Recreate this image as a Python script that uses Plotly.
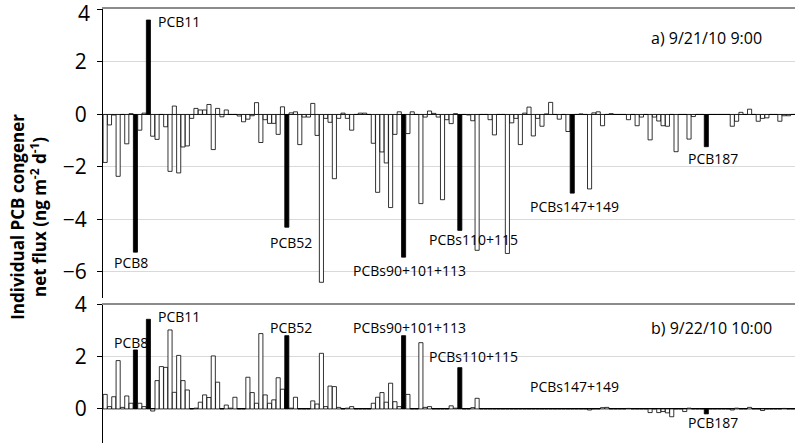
import plotly.graph_objects as go
from plotly.subplots import make_subplots

# ------------------------------------------------------------
# data: net flux per congener (ng m-2 d-1), 160 congener slots
# ------------------------------------------------------------
congener_idx = list(range(160))

flux_0921 = [
    -1.83, -0.40, -0.02, -2.36, 0.00, -1.12, 0.03, -5.25, -0.60, 0.05,
    3.60, -0.83, -0.95, 0.00, -0.47, -2.17, 0.32, -2.23, -1.24, -1.20,
    -0.15, 0.23, 0.17, 0.17, 0.38, -1.34, 0.23, -0.09, 0.17, 0.00,
    0.00, -0.06, -0.28, -0.18, -0.05, 0.45, -1.07, -0.20, -0.34, -0.34,
    -0.76, 0.29, -4.30, 0.06, 0.10, -1.15, -0.10, -0.10, 0.42, -0.80,
    -6.40, -0.15, -0.30, -2.45, -0.15, 0.05, -0.15, -0.60, 0.00, 0.05,
    0.05, 0.00, -1.10, -2.97, -1.43, -1.85, -3.55, -0.76, 0.10, -5.44,
    -0.73, 0.10, 0.00, -3.40, -0.10, 0.13, 0.04, -0.10, -3.25, -0.20,
    -0.35, 0.03, -4.42, 0.00, -0.02, -0.24, -5.18, 0.00, 0.00, -0.20,
    -0.78, 0.00, 0.00, -5.30, -0.32, -0.15, -1.15, 0.05, 0.28, -0.82,
    -0.15, -0.45, 0.02, 0.46, 0.00, -0.18, 0.00, -0.65, -3.00, 0.00,
    0.02, 0.00, -2.84, 0.06, 0.10, -0.43, 0.00, 0.03, 0.00, 0.00,
    0.00, -0.20, 0.00, -0.43, -0.10, 0.00, -0.97, -0.10, -0.25, -0.43,
    -0.45, 0.00, -1.42, 0.00, 0.00, -0.94, -0.08, 0.00, 0.00, -1.23,
    0.00, 0.00, 0.00, 0.00, 0.00, -0.45, -0.26, 0.08, 0.00, 0.20,
    0.00, -0.26, -0.15, -0.13, 0.00, 0.00, -0.26, -0.05, -0.05, 0.00,
]

flux_0922 = [
    0.56, 0.09, 0.47, 1.86, 0.06, 0.50, 0.22, 2.27, 0.22, 0.09,
    3.45, -0.08, 1.09, 1.63, 1.60, 3.04, 0.64, 2.06, 1.09, 0.73,
    0.00, 0.03, 0.26, 0.54, 0.44, 2.04, 1.03, 0.00, 0.15, 0.03,
    0.45, 0.00, 0.00, 1.22, 0.63, 0.22, 2.90, 0.54, 0.22, 0.35,
    1.20, 0.76, 2.82, 0.03, 0.45, 0.00, 0.00, 0.00, 0.31, 0.19,
    2.14, 0.09, 0.88, 0.86, 0.06, 0.00, 0.03, 0.09, 0.00, 0.00,
    0.00, 0.00, 0.22, 0.45, 0.63, 0.26, 0.99, 0.28, 0.09, 2.82,
    0.56, 0.00, 0.00, 2.55, 0.06, 0.09, 0.00, 0.00, 0.00, 0.00,
    0.12, 0.03, 1.59, 0.00, 0.00, 0.05, 0.41, 0.00, 0.00, 0.00,
    0.00, 0.00, 0.00, 0.00, 0.00, 0.00, 0.00, 0.00, 0.00, 0.00,
    0.00, 0.00, 0.00, 0.00, 0.00, 0.00, 0.00, 0.00, 0.00, 0.00,
    0.00, 0.00, -0.04, 0.00, 0.00, 0.05, 0.06, 0.00, 0.00, 0.00,
    0.00, 0.02, 0.00, 0.00, 0.00, 0.00, -0.14, 0.00, -0.14, -0.10,
    -0.15, -0.30, 0.00, 0.00, -0.10, 0.03, 0.00, 0.00, 0.00, -0.19,
    0.00, 0.00, 0.00, 0.00, 0.00, -0.04, 0.03, 0.00, 0.00, 0.06,
    0.00, 0.00, -0.06, 0.00, 0.00, 0.00, 0.00, 0.02, 0.00, 0.00,
]

# highlighted congeners (black bars) and their names
highlight_idx = [7, 10, 42, 69, 82, 108, 139]
highlight_names = ["PCB8", "PCB11", "PCB52", "PCBs90+101+113",
                   "PCBs110+115", "PCBs147+149", "PCB187"]

panel_titles = ["a) 9/21/10 9:00", "b) 9/22/10 10:00"]
top_ticks = [-6, -4, -2, 0, 2, 4]
bottom_ticks = [0, 2, 4]

# label placement (x in category units, y in data units) per panel
label_pos_top = [(1.6, -5.65), (11.8, 3.55), (37.7, -4.9), (56.8, -5.95),
                 (74.4, -4.77), (97.8, -3.5), (134.3, -1.68)]
label_pos_bot = [(1.6, 2.54), (11.8, 3.54), (37.7, 3.15), (56.8, 3.15),
                 (74.4, 2.0), (97.8, 0.85), (134.3, -0.54)]

# ------------------------------------------------------------
# figure
# ------------------------------------------------------------
FONT = "Open Sans"
fill = ["black" if i in highlight_idx else "white" for i in congener_idx]

fig = make_subplots(rows=2, cols=1, vertical_spacing=0.0)

for row, vals in [(1, flux_0921), (2, flux_0922)]:
    fig.add_trace(
        go.Bar(x=congener_idx, y=vals,
               marker=dict(color=fill, line=dict(color="black", width=0.8)),
               showlegend=False),
        row=row, col=1,
    )

fig.update_layout(
    width=800, height=443,
    margin=dict(l=103, r=5, t=9, b=0, autoexpand=False),
    paper_bgcolor="white", plot_bgcolor="white",
    bargap=0.05,
    font=dict(family=FONT, color="black"),
    yaxis=dict(domain=[0.334, 1.0]),
    yaxis2=dict(domain=[0.0, 0.318]),
)

fig.update_xaxes(range=[-0.5, 159.5], showticklabels=False, ticks="",
                 showgrid=False, zeroline=False, showline=True, side="top",
                 linecolor="#8c8c8c", linewidth=1.5, automargin=False)

fig.update_yaxes(showgrid=True, gridcolor="#d9d9d9", gridwidth=1,
                 zeroline=True, zerolinecolor="black", zerolinewidth=1,
                 showline=True, linecolor="black", linewidth=1,
                 ticks="outside", ticklen=5, tickcolor="black",
                 ticklabelstandoff=6, automargin=False,
                 tickfont=dict(size=21, family=FONT))
# the top-most label sits on the page edge, plotly drops it, so it is
# written as an annotation below
fig.update_yaxes(range=[-7, 4.02], tickvals=top_ticks,
                 ticktext=[f"{v:g}".replace("-", "\u2212") for v in top_ticks[:-1]] + [" "],
                 row=1, col=1)
fig.update_yaxes(range=[-1.31, 4], tickvals=bottom_ticks, row=2, col=1)

annotations = []
for xr, yr, pos in [("x", "y", label_pos_top), ("x2", "y2", label_pos_bot)]:
    for name, (lx, ly) in zip(highlight_names, pos):
        annotations.append(dict(x=lx, y=ly, xref=xr, yref=yr, text=name,
                                showarrow=False, xanchor="left",
                                yanchor="middle", font=dict(size=14)))

annotations.append(dict(x=125.7, y=2.9, xref="x", yref="y",
                        text=panel_titles[0], showarrow=False,
                        xanchor="left", font=dict(size=16)))
annotations.append(dict(x=125.7, y=3.12, xref="x2", yref="y2",
                        text=panel_titles[1], showarrow=False,
                        xanchor="left", font=dict(size=16)))

annotations.append(dict(x=-0.016, y=top_ticks[-1], xref="paper", yref="y",
                        text=str(top_ticks[-1]), showarrow=False,
                        xanchor="right", yanchor="top", yshift=13,
                        font=dict(size=21)))

# y axis title spanning both panels
annotations.append(dict(
    x=-0.107, y=0.521, xref="paper", yref="paper", textangle=-90,
    xanchor="center", yanchor="middle",
    text="<b>Individual PCB congener<br>net flux (ng m<sup>-2</sup> d<sup>-1</sup>)</b>",
    showarrow=False, font=dict(size=17)))

fig.update_layout(annotations=annotations)

# drop the browser's default page margin so the chart sits at (0, 0)
fig.write_html("out.html", config={"displayModeBar": False},
               post_script="document.body.style.margin='0';")
